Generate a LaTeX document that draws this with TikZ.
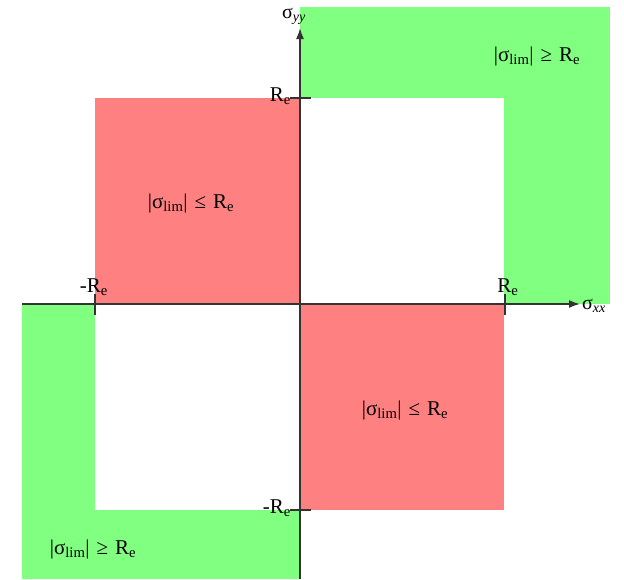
\documentclass[tikz,border=0pt]{standalone}
\usepackage{fontspec}
\setmainfont{Liberation Serif}
\usetikzlibrary{arrows.meta}
\definecolor{lgreen}{HTML}{80FF80}
\definecolor{lred}{HTML}{FF8080}
\newcommand{\rel}[1]{\hspace{7pt}#1\hspace{7pt}}
\begin{document}
\begin{tikzpicture}[x=1pt,y=-1pt,
  axis/.style={draw=black!80,line width=1.6pt},
  tick/.style={draw=black!80,line width=1.6pt},
  lbl/.style={font=\fontsize{21}{23}\selectfont,inner sep=0pt},
  axlbl/.style={font=\fontsize{20}{22}\selectfont,inner sep=0pt}]
\useasboundingbox (0,0) rectangle (624,579);
% regions
\fill[lgreen] (300,7) rectangle (610,304);
\fill[white] (300,98) rectangle (504,304);
\fill[lred] (95,98) rectangle (300,304);
\fill[lred] (300,304) rectangle (504,510);
\fill[lgreen] (22,304) rectangle (300,579);
\fill[white] (95,304) rectangle (300,510);
% axes
\coordinate (xs) at (22,304);
\coordinate (xe) at (580,304);
\coordinate (ys) at (300,579);
\coordinate (ye) at (300,28);
\draw[axis,-{Latex[length=11pt,width=8pt]}] (xs) -- (xe);
\draw[axis,-{Latex[length=11pt,width=8pt]}] (ys) -- (ye);
% ticks
\coordinate (t1a) at (290,98); \coordinate (t1b) at (311,98);
\coordinate (t2a) at (290,510); \coordinate (t2b) at (311,510);
\coordinate (t3a) at (95,294); \coordinate (t3b) at (95,315);
\coordinate (t4a) at (505,294); \coordinate (t4b) at (505,315);
\draw[tick] (t1a) -- (t1b);
\draw[tick] (t2a) -- (t2b);
\draw[tick] (t3a) -- (t3b);
\draw[tick] (t4a) -- (t4b);
% axis labels
\node[axlbl,anchor=south west] (syy) at (282,25) {σ\textsubscript{\textit{yy}}};
\node[axlbl,anchor=west] (sxx) at (582,306) {σ\textsubscript{\textit{xx}}};
\node[lbl,anchor=south east] (re1) at (291,105) {R\textsubscript{e}};
\node[lbl,anchor=south east] (re2) at (291,517) {-R\textsubscript{e}};
\node[lbl,anchor=south] (re3) at (94,296) {-R\textsubscript{e}};
\node[lbl,anchor=south] (re4) at (508,296) {R\textsubscript{e}};
% region labels
\node[lbl] (l1) at (537,56) {|σ\textsubscript{lim}|\rel{≥}R\textsubscript{e}};
\node[lbl] (l2) at (191,203) {|σ\textsubscript{lim}|\rel{≤}R\textsubscript{e}};
\node[lbl] (l3) at (405,410) {|σ\textsubscript{lim}|\rel{≤}R\textsubscript{e}};
\node[lbl] (l4) at (93,549) {|σ\textsubscript{lim}|\rel{≥}R\textsubscript{e}};
\end{tikzpicture}
\end{document}
